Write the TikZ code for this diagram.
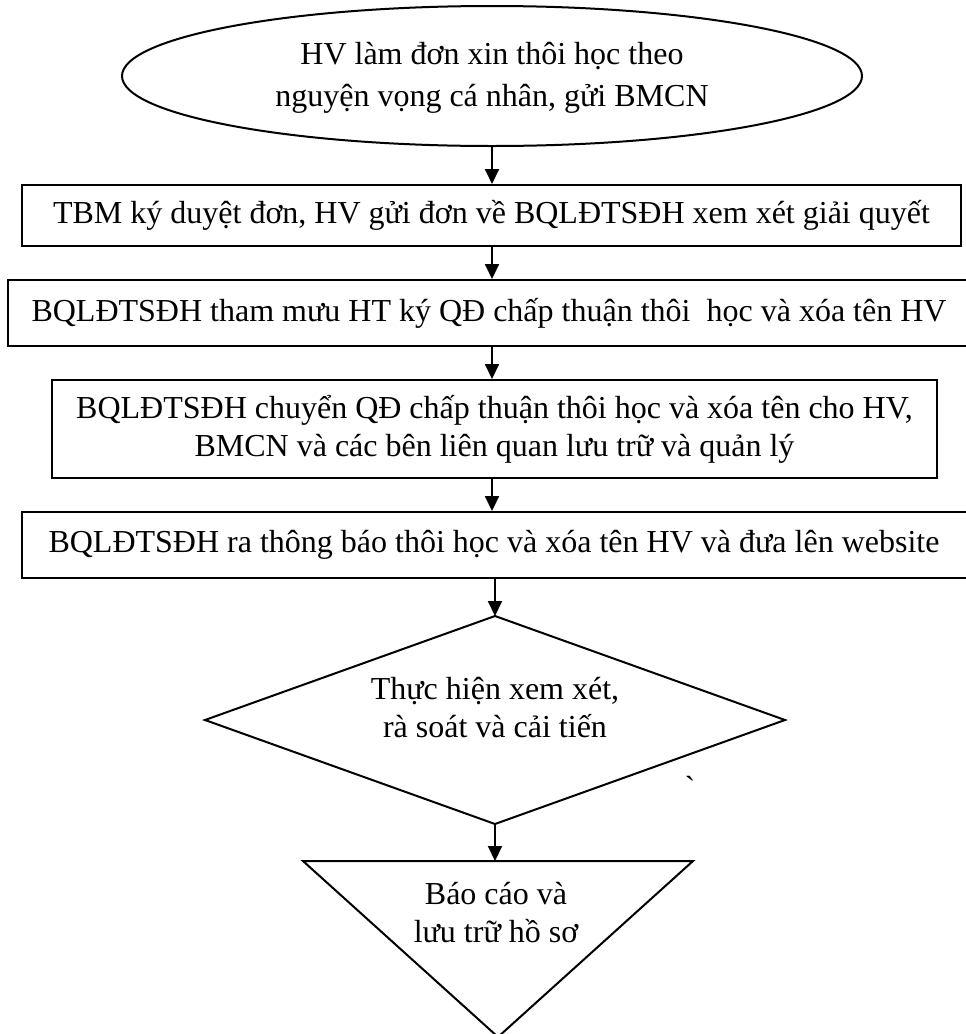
\documentclass[tikz,border=0pt]{standalone}
\usepackage{fontspec}
\setmainfont{Liberation Serif}
\newfontfamily\rawserif{Liberation Serif}
\usetikzlibrary{arrows.meta,shapes.geometric}
\begin{document}
\begin{tikzpicture}[x=1pt,y=-1pt,
  every node/.style={font=\fontsize{32}{38}\selectfont},
  line/.style={line width=2pt},
  boxnode/.style={draw,line width=2pt,rectangle,inner sep=0pt,align=center},
  arr/.style={line width=2pt,-{Triangle[length=15pt,width=14pt]}},
  lbl/.style={align=center,inner sep=0pt}]
\useasboundingbox (0,0) rectangle (966,1034);
% ellipse
\node[draw,line width=2pt,ellipse,minimum width=740pt,minimum height=140pt,inner sep=0pt] (ell) at (492,76) {};
\node[lbl,font=\fontsize{32}{42}\selectfont] (ellt) at (492,78) {HV làm đơn xin thôi học theo\\nguyện vọng cá nhân, gửi BMCN};
% boxes
\node[boxnode,minimum width=939pt,minimum height=61pt] (b1) at (491.5,215.5) {TBM ký duyệt đơn, HV gửi đơn về BQLĐTSĐH xem xét giải quyết};
\node[boxnode,minimum width=972pt,minimum height=66pt] (b2) at (494,313) {};
\node[lbl] (b2t) at (489,313) {BQLĐTSĐH tham mưu HT ký QĐ chấp thuận thôi~ học và xóa tên HV};
\node[boxnode,minimum width=885pt,minimum height=98pt] (b3) at (494.5,429) {BQLĐTSĐH chuyển QĐ chấp thuận thôi học và xóa tên cho HV,\\BMCN và các bên liên quan lưu trữ và quản lý};
\node[boxnode,minimum width=958pt,minimum height=66pt] (b4) at (501,545) {};
\node[lbl] (b4t) at (494,545) {BQLĐTSĐH ra thông báo thôi học và xóa tên HV và đưa lên website};
% diamond
\coordinate (dt) at (495,616);
\coordinate (dr) at (785,720);
\coordinate (db) at (495,824);
\coordinate (dl) at (205,720);
\draw[line,line join=miter] (dt) -- (dr) -- (db) -- (dl) -- cycle;
\node[lbl] (dtext) at (495,708) {Thực hiện xem xét,\\rà soát và cải tiến};
% triangle
\coordinate (tl) at (303,861);
\coordinate (tr) at (693,861);
\coordinate (tb) at (498,1037);
\draw[line,line join=miter] (tl) -- (tr) -- (tb) -- cycle;
\node[lbl] (ttext) at (496,913) {Báo cáo và\\lưu trữ hồ sơ};
% stray mark
\node[inner sep=0pt,font=\rawserif\fontsize{32}{38}\selectfont] (mark) at (690,787) {`};
% arrows
\draw[arr] (ell.south) -- (ell.south |- b1.north);
\draw[arr] (ell.south |- b1.south) -- (ell.south |- b2.north);
\draw[arr] (ell.south |- b2.south) -- (ell.south |- b3.north);
\draw[arr] (ell.south |- b3.south) -- (ell.south |- b4.north);
\draw[arr] (dt |- b4.south) -- (dt);
\draw[arr] (db) -- (db |- tl);
\end{tikzpicture}
\end{document}
